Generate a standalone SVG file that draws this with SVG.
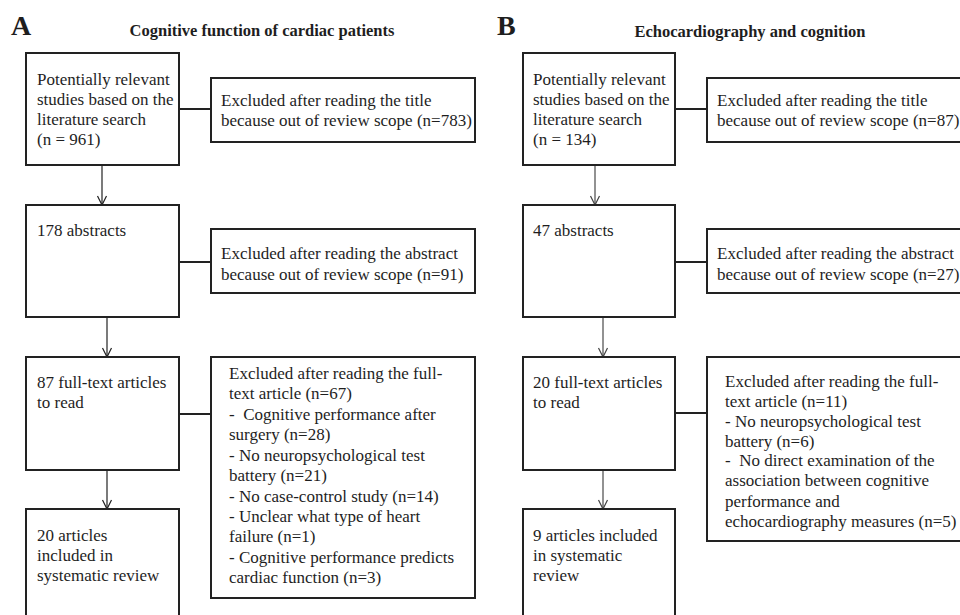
<svg xmlns="http://www.w3.org/2000/svg" width="960" height="615" viewBox="0 0 960 615">
<defs>
<style>
text{font-family:"Liberation Serif","Times New Roman",serif;fill:#1e1e1e;}
.t{font-size:17px;}
.h{font-size:16.5px;font-weight:bold;}
.p{font-size:28px;font-weight:bold;}
.box{fill:#fff;stroke:#222;stroke-width:2;}
.link{stroke:#222;stroke-width:2;fill:none;}
.arrA{stroke:#222;stroke-width:1.2;fill:none;}
.arrB{stroke:#777;stroke-width:1.6;fill:none;}
</style>
<marker id="vA" markerUnits="userSpaceOnUse" markerWidth="12" markerHeight="12" viewBox="-11 -6 12 12" refX="0" refY="0" orient="auto">
<path d="M-9,-4.5 L0,0 L-9,4.5" fill="none" stroke="#222" stroke-width="1.2"/>
</marker>
<marker id="vB" markerUnits="userSpaceOnUse" markerWidth="12" markerHeight="12" viewBox="-11 -6 12 12" refX="0" refY="0" orient="auto">
<path d="M-9,-4.5 L0,0 L-9,4.5" fill="none" stroke="#444" stroke-width="1.2"/>
</marker>
</defs>
<rect width="960" height="615" fill="#fff"/>

<g id="headings">
<text class="p" x="11" y="35">A</text>
<text class="h" x="262" y="36" text-anchor="middle">Cognitive function of cardiac patients</text>
<text class="p" x="497" y="35">B</text>
<text class="h" x="750" y="37" text-anchor="middle">Echocardiography and cognition</text>
</g>

<g id="connectors">
<line class="link" x1="179" y1="109" x2="211" y2="109"/>
<line class="link" x1="179" y1="262" x2="211" y2="262"/>
<line class="link" x1="179" y1="414" x2="211" y2="414"/>
<line class="arrA" x1="102" y1="165" x2="102" y2="205" marker-end="url(#vA)"/>
<line class="arrA" x1="107" y1="317" x2="107" y2="357" marker-end="url(#vA)"/>
<line class="arrA" x1="107" y1="470" x2="107" y2="509" marker-end="url(#vA)"/>
<line class="link" x1="675" y1="109" x2="707" y2="109"/>
<line class="link" x1="675" y1="262" x2="707" y2="262"/>
<line class="link" x1="675" y1="413" x2="707" y2="413"/>
<line class="arrB" x1="595" y1="165" x2="595" y2="205" marker-end="url(#vB)"/>
<line class="arrB" x1="603" y1="317" x2="603" y2="357" marker-end="url(#vB)"/>
<line class="arrB" x1="603" y1="470" x2="603" y2="509" marker-end="url(#vB)"/>
</g>

<g id="A-search">
<rect class="box" x="26" y="53" width="153" height="112"/>
<text class="t" x="37" y="85">Potentially relevant</text>
<text class="t" x="37" y="105">studies based on the</text>
<text class="t" x="37" y="125">literature search</text>
<text class="t" x="37" y="145">(n = 961)</text>
</g>
<g id="A-excl-title">
<rect class="box" x="211" y="78" width="264" height="64"/>
<text class="t" x="221" y="106">Excluded after reading the title</text>
<text class="t" x="221" y="126">because out of review scope (n=783)</text>
</g>
<g id="A-abstracts">
<rect class="box" x="26" y="205" width="153" height="112"/>
<text class="t" x="37" y="236">178 abstracts</text>
</g>
<g id="A-excl-abstract">
<rect class="box" x="211" y="229" width="264" height="64"/>
<text class="t" x="221" y="259">Excluded after reading the abstract</text>
<text class="t" x="221" y="280">because out of review scope (n=91)</text>
</g>
<g id="A-fulltext">
<rect class="box" x="26" y="357" width="153" height="113"/>
<text class="t" x="37" y="388">87 full-text articles</text>
<text class="t" x="37" y="408">to read</text>
</g>
<g id="A-excl-fulltext">
<rect class="box" x="211" y="357" width="264" height="241"/>
<text class="t" x="229" y="379">Excluded after reading the full-</text>
<text class="t" x="229" y="399">text article (n=67)</text>
<text class="t" x="229" y="420" xml:space="preserve">-  Cognitive performance after</text>
<text class="t" x="229" y="440">surgery (n=28)</text>
<text class="t" x="229" y="461">- No neuropsychological test</text>
<text class="t" x="229" y="481">battery (n=21)</text>
<text class="t" x="229" y="502">- No case-control study (n=14)</text>
<text class="t" x="229" y="522">- Unclear what type of heart</text>
<text class="t" x="229" y="542">failure (n=1)</text>
<text class="t" x="229" y="563">- Cognitive performance predicts</text>
<text class="t" x="229" y="583">cardiac function (n=3)</text>
</g>
<g id="A-included">
<rect class="box" x="26" y="509" width="153" height="130"/>
<text class="t" x="37" y="541">20 articles</text>
<text class="t" x="37" y="561">included in</text>
<text class="t" x="37" y="581">systematic review</text>
</g>

<g id="B-search">
<rect class="box" x="523" y="53" width="152" height="112"/>
<text class="t" x="533" y="85">Potentially relevant</text>
<text class="t" x="533" y="105">studies based on the</text>
<text class="t" x="533" y="125">literature search</text>
<text class="t" x="533" y="145">(n = 134)</text>
</g>
<g id="B-excl-title">
<rect class="box" x="707" y="78" width="270" height="64"/>
<text class="t" x="717" y="106">Excluded after reading the title</text>
<text class="t" x="717" y="126">because out of review scope (n=87)</text>
</g>
<g id="B-abstracts">
<rect class="box" x="523" y="205" width="152" height="112"/>
<text class="t" x="533" y="236">47 abstracts</text>
</g>
<g id="B-excl-abstract">
<rect class="box" x="707" y="229" width="270" height="64"/>
<text class="t" x="717" y="259">Excluded after reading the abstract</text>
<text class="t" x="717" y="280">because out of review scope (n=27)</text>
</g>
<g id="B-fulltext">
<rect class="box" x="523" y="357" width="152" height="113"/>
<text class="t" x="533" y="388">20 full-text articles</text>
<text class="t" x="533" y="408">to read</text>
</g>
<g id="B-excl-fulltext">
<rect class="box" x="707" y="357" width="270" height="184"/>
<text class="t" x="725" y="387">Excluded after reading the full-</text>
<text class="t" x="725" y="407">text article (n=11)</text>
<text class="t" x="725" y="427">- No neuropsychological test</text>
<text class="t" x="725" y="447">battery (n=6)</text>
<text class="t" x="725" y="466" xml:space="preserve">-  No direct examination of the</text>
<text class="t" x="725" y="486">association between cognitive</text>
<text class="t" x="725" y="507">performance and</text>
<text class="t" x="725" y="527">echocardiography measures (n=5)</text>
</g>
<g id="B-included">
<rect class="box" x="523" y="509" width="152" height="130"/>
<text class="t" x="533" y="541">9 articles included</text>
<text class="t" x="533" y="561">in systematic</text>
<text class="t" x="533" y="581">review</text>
</g>
</svg>
